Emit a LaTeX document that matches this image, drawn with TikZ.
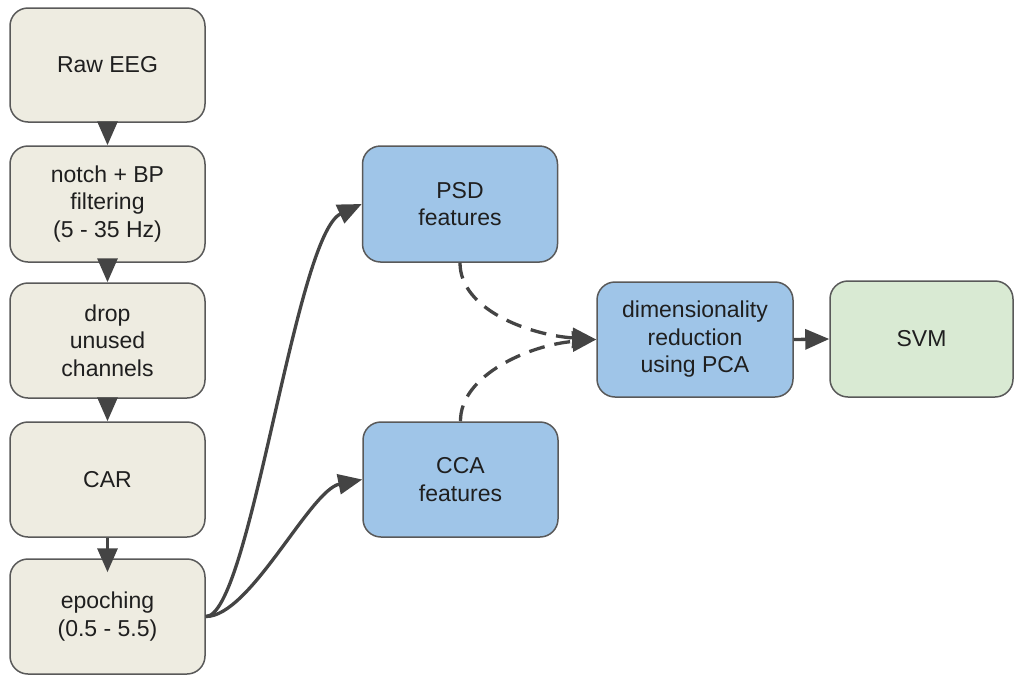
\documentclass[tikz,border=0pt]{standalone}
\usepackage{fontspec}
\setmainfont{Liberation Sans}
\usetikzlibrary{arrows.meta}
\definecolor{beige}{HTML}{EEECE1}
\definecolor{bluebox}{HTML}{9FC5E8}
\definecolor{greenbox}{HTML}{D9EAD3}
\definecolor{edgecol}{HTML}{595959}
\definecolor{conncol}{HTML}{444444}
\begin{document}
\begin{tikzpicture}[x=1pt,y=-1pt,
  box/.style={draw=edgecol, line width=1.5pt, rounded corners=18pt,
    minimum width=195pt, minimum height=115pt, align=center, inner sep=0pt,
    font=\fontsize{23}{27.5}\selectfont, text=black!88},
  conn/.style={draw=conncol, line width=3.3pt, -{Triangle[length=24pt,width=20pt]}},
  dashconn/.style={conn, dash pattern=on 16pt off 10pt}]
\useasboundingbox (0,0) rectangle (1015,675);
\node[box, fill=beige, minimum height=114pt] (raw) at (107.5,65) {Raw EEG};
\node[box, fill=beige, minimum height=116pt] (notch) at (107.5,204) {notch + BP\\filtering\\(5 - 35 Hz)};
\node[box, fill=beige] (drop) at (107.5,340.5) {drop\\unused\\channels};
\node[box, fill=beige] (car) at (107.5,479.5) {CAR};
\node[box, fill=beige] (epo) at (107.5,616.5) {epoching\\(0.5 - 5.5)};
\node[box, fill=bluebox, minimum height=116pt] (psd) at (460,204) {PSD\\features};
\node[box, fill=bluebox] (cca) at (460.5,479.5) {CCA\\features};
\node[box, fill=bluebox, minimum width=196pt] (dim) at (695,339.5) {dimensionality\\reduction\\using PCA};
\node[box, fill=greenbox, minimum width=183pt, minimum height=116pt] (svm) at (921.5,339) {SVM};
\draw[conn] (raw.south) -- (notch.north);
\draw[conn] (notch.south) -- (drop.north);
\draw[conn] (drop.south) -- (car.north);
\draw[conn] (car.south) -- ([yshift=-14pt]epo.north);
\draw[conn] (epo.east) .. controls (250,617) and (295,235) .. (psd.west);
\draw[conn] (epo.east) .. controls (250,617) and (310,490) .. (cca.west);
\draw[dashconn] (psd.south) .. controls (460,310) and (530,335) .. (dim.west);
\draw[dashconn] (cca.north) .. controls (460,375) and (530,345) .. (dim.west);
\draw[conn] (dim.east) -- (svm.west);
\end{tikzpicture}
\end{document}
